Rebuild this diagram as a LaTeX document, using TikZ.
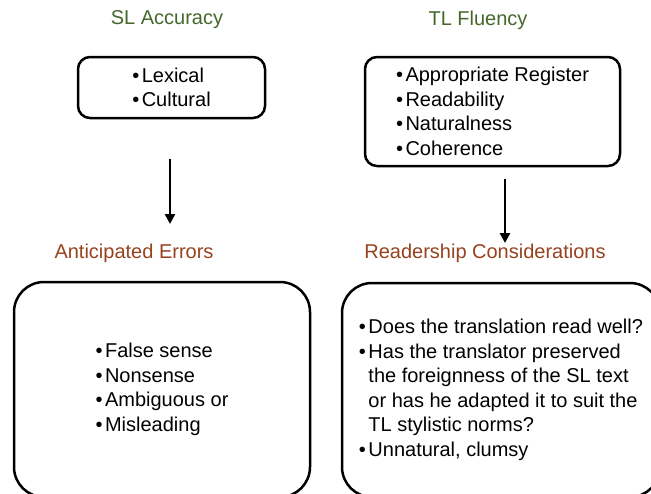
\documentclass[tikz,border=0pt]{standalone}
\usepackage{fontspec}
\setmainfont{Liberation Sans}
\usetikzlibrary{arrows.meta}
\definecolor{headgreen}{RGB}{68,104,42}
\definecolor{headbrown}{RGB}{150,66,30}
\newcommand{\itm}{•\hspace{2.5pt}}
\tikzset{
  heading/.style={font=\fontsize{20pt}{24pt}\selectfont},
  listbox/.style={draw, line width=2.5pt, align=left, inner sep=0pt,
    font=\fontsize{20pt}{24.5pt}\selectfont},
  downarrow/.style={line width=2.5pt, -{Triangle[length=10pt, width=10pt]}},
}
\begin{document}
\begin{tikzpicture}[x=1pt, y=-1pt]
\path [use as bounding box, clip] (0, 0) rectangle (651, 493);

\node [heading, text=headgreen] (slhead) at (167, 20) {SL Accuracy};
\node [heading, text=headgreen] (tlhead) at (478, 20) {TL Fluency};

\node [listbox, rounded corners=12pt, minimum width=187pt, minimum height=61pt] (slbox) at (171.5, 87.5)
  {\itm Lexical\\ \itm Cultural};
\node [listbox, rounded corners=12pt, minimum width=255pt, minimum height=109pt] (tlbox) at (492.5, 111.5)
  {\itm Appropriate Register\\ \itm Readability\\ \itm Naturalness\\ \itm Coherence};

\node [heading, text=headbrown] (errhead) at (134, 253) {Anticipated Errors};
\node [heading, text=headbrown] (readhead) at (485, 253) {Readership Considerations};

\node [listbox, rounded corners=30pt, minimum width=296pt, minimum height=215pt] (errbox) at (162, 389.5)
  {\itm False sense\\ \itm Nonsense\\ \itm Ambiguous or\\ \itm Misleading};
\node [listbox, rounded corners=30pt, minimum width=318pt, minimum height=214pt] (readbox) at (501, 390)
  {\itm Does the translation read well?\\ \itm Has the translator preserved\\ \hphantom{\itm}the foreignness of the SL text\\ \hphantom{\itm}or has he adapted it to suit the\\ \hphantom{\itm}TL stylistic norms?\\ \itm Unnatural, clumsy};

\coordinate (slfrom) at (170, 159);
\coordinate (slto) at (170, 224);
\coordinate (tlfrom) at (505, 179);
\coordinate (tlto) at (505, 243);
\draw [downarrow] (slfrom) -- (slto);
\draw [downarrow] (tlfrom) -- (tlto);
\end{tikzpicture}
\end{document}
